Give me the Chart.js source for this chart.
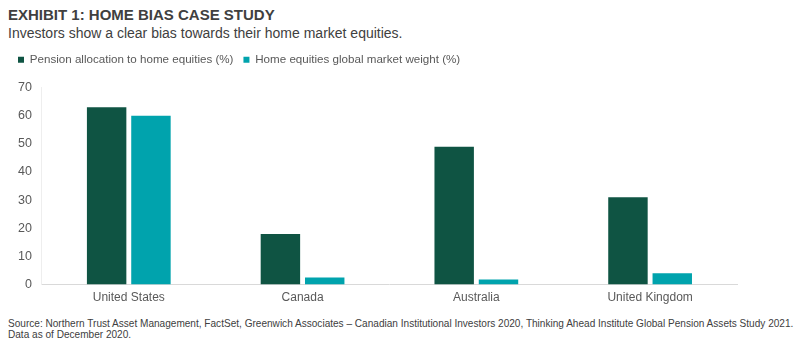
<!DOCTYPE html>
<html>
<head>
<meta charset="utf-8" />
<title>Home Bias Case Study</title>
<style>
    body {
        margin: 0;
        width: 800px;
        height: 351px;
        background: #fff;
        font-family: "Liberation Sans", Arial, sans-serif;
        position: relative;
        overflow: hidden;
    }
    .title {
        position: absolute;
        left: 8px;
        top: 6px;
        font-size: 15px;
        font-weight: bold;
        color: #404040;
    }
    .subtitle {
        position: absolute;
        left: 8px;
        top: 25px;
        font-size: 14px;
        color: #404040;
    }
    .chart-box {
        position: absolute;
        left: 8px;
        top: 44px;
        width: 740px;
        height: 267px;
    }
    .source {
        position: absolute;
        left: 8px;
        top: 318px;
        font-size: 11px;
        line-height: 11px;
        color: #404040;
        white-space: nowrap;
        transform: scaleX(0.9);
        transform-origin: left top;
    }
</style>
<script src="https://cdn.jsdelivr.net/npm/chart.js"></script>
</head>
<body>
<div class="title">EXHIBIT 1: HOME BIAS CASE STUDY</div>
<div class="subtitle">Investors show a clear bias towards their home market equities.</div>
<div class="chart-box"><canvas id="chart"></canvas></div>
<div class="source" id="source">Source: Northern Trust Asset Management, FactSet, Greenwich Associates – Canadian Institutional Investors 2020, Thinking Ahead Institute Global Pension Assets Study 2021.<br>Data as of December 2020.</div>
<script>
    const countries = ['United States', 'Canada', 'Australia', 'United Kingdom'];
    const pensionAllocation = [63, 18, 49, 31];
    const marketWeight = [60, 2.5, 1.8, 4];
    const yTicks = [0, 10, 20, 30, 40, 50, 60, 70];

    // squeeze the source note into the page width, like a narrow font
    const src = document.getElementById('source');
    src.style.transform = 'none';
    const w = src.scrollWidth;
    src.style.transform = `scaleX(${(785 / w).toFixed(3)})`;

    // extra gap under the legend
    const legendGap = {
        id: 'legendGap',
        beforeInit(chart) {
            const fit = chart.legend.fit;
            chart.legend.fit = function () {
                fit.call(this);
                this.height += 12;
            };
        }
    };

    new Chart(document.getElementById('chart'), {
        type: 'bar',
        data: {
            labels: countries,
            datasets: [
                { label: 'Pension allocation to home equities (%)', data: pensionAllocation, backgroundColor: '#0f5443' },
                { label: 'Home equities global market weight (%)', data: marketWeight, backgroundColor: '#00a3ad' }
            ]
        },
        plugins: [legendGap],
        options: {
            responsive: true,
            maintainAspectRatio: false,
            animation: false,
            categoryPercentage: 0.51,
            barPercentage: 0.89,
            layout: { padding: { left: 0, right: 11, top: 0, bottom: 0 } },
            scales: {
                x: {
                    grid: { display: false, drawTicks: false },
                    border: { color: '#d9d9d9', width: 1 },
                    ticks: { color: '#595959', font: { family: 'Liberation Sans', size: 12 }, padding: 6 }
                },
                y: {
                    min: 0,
                    max: 70,
                    afterBuildTicks: axis => { axis.ticks = yTicks.map(v => ({ value: v })); },
                    grid: { display: false, drawTicks: false },
                    border: { color: '#eeeeee', width: 1 },
                    ticks: { color: '#595959', font: { family: 'Liberation Sans', size: 12.5 }, padding: 10 }
                }
            },
            plugins: {
                legend: {
                    position: 'top',
                    align: 'start',
                    labels: {
                        boxWidth: 6,
                        boxHeight: 6,
                        padding: 10,
                        color: '#595959',
                        font: { family: 'Liberation Sans', size: 11.6 }
                    }
                },
                tooltip: { enabled: false }
            }
        }
    });
</script>
</body>
</html>
